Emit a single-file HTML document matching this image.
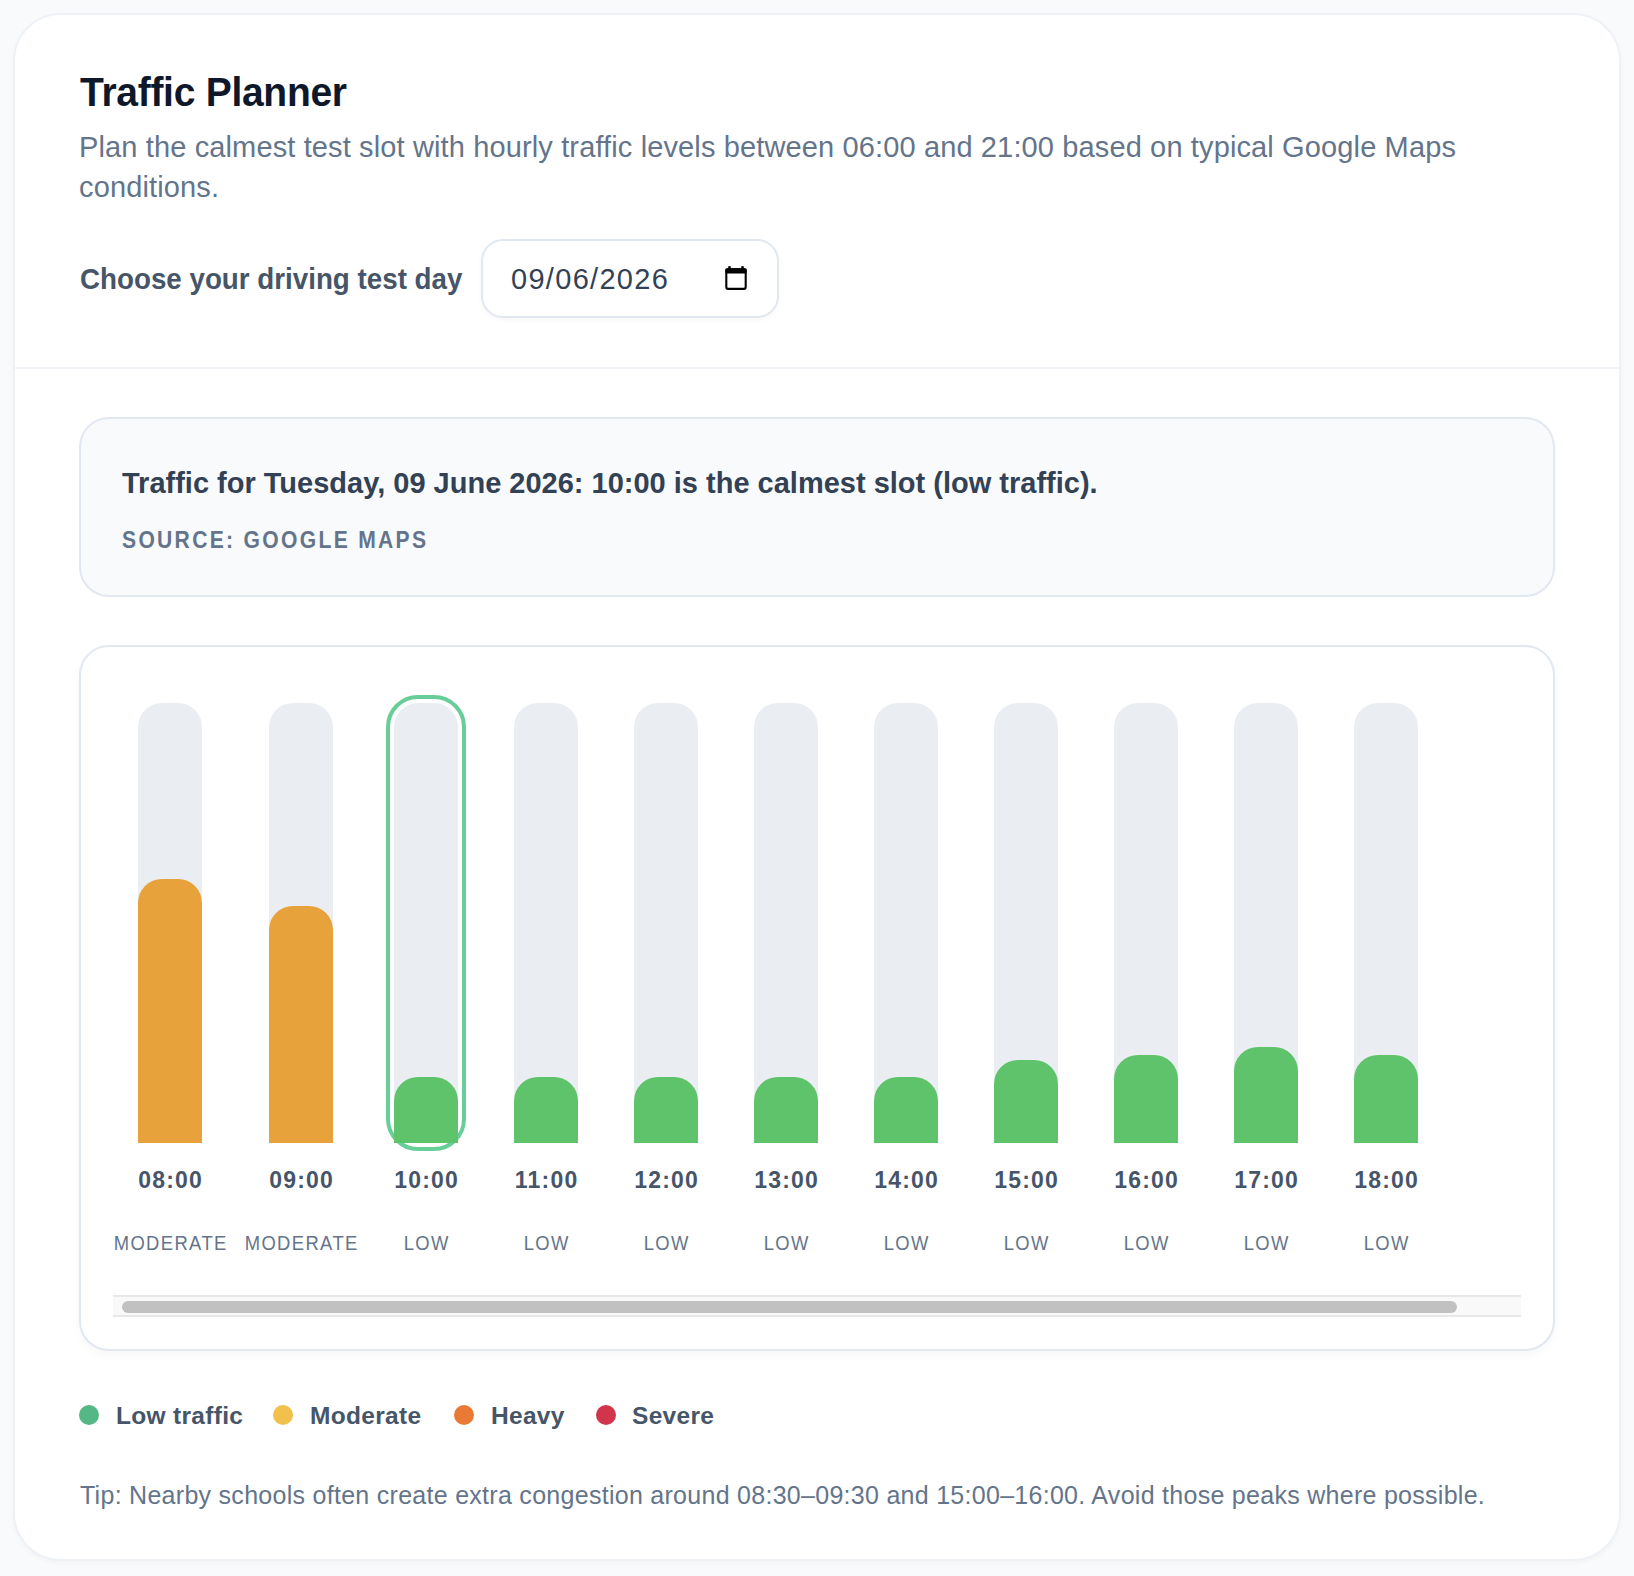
<!DOCTYPE html>
<html>
<head>
<meta charset="utf-8">
<style>
html,body{margin:0;padding:0;}
body{width:1634px;height:1576px;background:#f8fafc;position:relative;overflow:hidden;font-family:"Liberation Sans",sans-serif;}
.card{position:absolute;left:13px;top:13px;width:1604px;height:1544px;background:#fff;border:2px solid #eef2f7;border-radius:48px;box-shadow:0 2px 5px rgba(15,23,42,0.03);}
.t{position:absolute;white-space:nowrap;line-height:1;}
.divider{position:absolute;left:15px;top:367px;width:1604px;height:2px;background:#f0f4f8;}
.summary{position:absolute;left:79px;top:417px;width:1472px;height:176px;background:#f8fafc;border:2px solid #e2e8f0;border-radius:30px;}
.chart{position:absolute;left:79px;top:645px;width:1472px;height:702px;background:#fff;border:2px solid #e2e8f0;border-radius:30px;box-shadow:0 4px 10px rgba(15,23,42,0.035);}
.input{position:absolute;left:481px;top:239px;width:294px;height:75px;border:2px solid #e2e8f0;border-radius:22px;background:#fff;box-shadow:0 2px 4px rgba(15,23,42,0.04);}
.track{position:absolute;top:703px;width:64px;height:440px;background:#eaeef3;border-radius:24px;}
.fill{position:absolute;left:0;bottom:0;width:64px;border-radius:24px 24px 0 0;}
.sel{position:absolute;left:386px;top:695px;width:72px;height:448px;border:4px solid #68ce98;border-radius:32px;}
.time{font-weight:700;font-size:23px;color:#475569;letter-spacing:1.2px;text-indent:1.2px;}
.lvl{font-size:20px;color:#64748b;letter-spacing:1.5px;text-indent:1.5px;transform:scaleX(0.92);}
.dot{position:absolute;top:1405px;width:20px;height:20px;border-radius:50%;}
.leg{font-weight:700;font-size:24.5px;color:#475569;letter-spacing:0.3px;}
</style>
</head>
<body>
<div class="card"></div>
<div class="t" style="left:80px;top:71px;font-size:41.5px;font-weight:700;color:#0f172a;letter-spacing:-0.3px;transform:scaleX(0.94);transform-origin:0 0;">Traffic Planner</div>
<div class="t" style="left:79px;top:133px;font-size:29px;color:#64748b;letter-spacing:0.13px;">Plan the calmest test slot with hourly traffic levels between 06:00 and 21:00 based on typical Google Maps</div>
<div class="t" style="left:79px;top:173px;font-size:29px;color:#64748b;letter-spacing:0.13px;">conditions.</div>
<div class="t" style="left:80px;top:264px;font-size:30px;font-weight:700;color:#475569;transform:scaleX(0.925);transform-origin:0 0;">Choose your driving test day</div>
<div class="input"></div>
<div class="t" style="left:511px;top:265px;font-size:29px;color:#334155;letter-spacing:1.3px;">09/06/2026</div>
<svg style="position:absolute;left:720px;top:262px;" width="32" height="32" viewBox="0 0 32 32"><rect x="6.3" y="7.2" width="19.4" height="19.7" rx="1.8" fill="none" stroke="#000" stroke-width="2.1"/><rect x="5.3" y="6.2" width="21.4" height="5.4" rx="1.6" fill="#000"/><rect x="8.2" y="3.9" width="2.6" height="4" rx="1.2" fill="#000"/><rect x="21.2" y="3.9" width="2.6" height="4" rx="1.2" fill="#000"/></svg>
<div class="divider"></div>

<div class="summary"></div>
<div class="t" style="left:122px;top:469px;font-size:29px;font-weight:700;color:#334155;">Traffic for Tuesday, 09 June 2026: 10:00 is the calmest slot (low traffic).</div>
<div class="t" style="left:122px;top:528px;font-size:24.5px;font-weight:700;color:#64748b;letter-spacing:2.7px;transform:scaleX(0.86);transform-origin:0 0;">SOURCE: GOOGLE MAPS</div>

<div class="chart"></div>
<div class="track" style="left:138px;"><div class="fill" style="height:264px;background:#e8a23b;"></div></div>
<div class="track" style="left:269px;"><div class="fill" style="height:237px;background:#e8a23b;"></div></div>
<div class="sel"></div>
<div class="track" style="left:394px;"><div class="fill" style="height:66px;background:#5fc36b;"></div></div>
<div class="track" style="left:514px;"><div class="fill" style="height:66px;background:#5fc36b;"></div></div>
<div class="track" style="left:634px;"><div class="fill" style="height:66px;background:#5fc36b;"></div></div>
<div class="track" style="left:754px;"><div class="fill" style="height:66px;background:#5fc36b;"></div></div>
<div class="track" style="left:874px;"><div class="fill" style="height:66px;background:#5fc36b;"></div></div>
<div class="track" style="left:994px;"><div class="fill" style="height:83px;background:#5fc36b;"></div></div>
<div class="track" style="left:1114px;"><div class="fill" style="height:88px;background:#5fc36b;"></div></div>
<div class="track" style="left:1234px;"><div class="fill" style="height:96px;background:#5fc36b;"></div></div>
<div class="track" style="left:1354px;"><div class="fill" style="height:88px;background:#5fc36b;"></div></div>

<div class="t time" style="left:100px;width:140px;text-align:center;top:1169px;">08:00</div>
<div class="t lvl" style="left:100px;width:140px;text-align:center;top:1233px;">MODERATE</div>
<div class="t time" style="left:231px;width:140px;text-align:center;top:1169px;">09:00</div>
<div class="t lvl" style="left:231px;width:140px;text-align:center;top:1233px;">MODERATE</div>
<div class="t time" style="left:356px;width:140px;text-align:center;top:1169px;">10:00</div>
<div class="t lvl" style="left:356px;width:140px;text-align:center;top:1233px;">LOW</div>
<div class="t time" style="left:476px;width:140px;text-align:center;top:1169px;">11:00</div>
<div class="t lvl" style="left:476px;width:140px;text-align:center;top:1233px;">LOW</div>
<div class="t time" style="left:596px;width:140px;text-align:center;top:1169px;">12:00</div>
<div class="t lvl" style="left:596px;width:140px;text-align:center;top:1233px;">LOW</div>
<div class="t time" style="left:716px;width:140px;text-align:center;top:1169px;">13:00</div>
<div class="t lvl" style="left:716px;width:140px;text-align:center;top:1233px;">LOW</div>
<div class="t time" style="left:836px;width:140px;text-align:center;top:1169px;">14:00</div>
<div class="t lvl" style="left:836px;width:140px;text-align:center;top:1233px;">LOW</div>
<div class="t time" style="left:956px;width:140px;text-align:center;top:1169px;">15:00</div>
<div class="t lvl" style="left:956px;width:140px;text-align:center;top:1233px;">LOW</div>
<div class="t time" style="left:1076px;width:140px;text-align:center;top:1169px;">16:00</div>
<div class="t lvl" style="left:1076px;width:140px;text-align:center;top:1233px;">LOW</div>
<div class="t time" style="left:1196px;width:140px;text-align:center;top:1169px;">17:00</div>
<div class="t lvl" style="left:1196px;width:140px;text-align:center;top:1233px;">LOW</div>
<div class="t time" style="left:1316px;width:140px;text-align:center;top:1169px;">18:00</div>
<div class="t lvl" style="left:1316px;width:140px;text-align:center;top:1233px;">LOW</div>

<div class="scroll" style="position:absolute;left:113px;top:1295px;width:1408px;height:22px;background:#f9f9f9;border-top:2px solid #e8e8e8;border-bottom:2px solid #e8e8e8;box-sizing:border-box;"></div>
<div style="position:absolute;left:122px;top:1301px;width:1335px;height:12px;background:#c1c1c1;border-radius:6px;"></div>

<div class="dot" style="left:79px;background:#55b686;"></div>
<div class="t leg" style="left:116px;top:1404px;">Low traffic</div>
<div class="dot" style="left:273px;background:#f2c04c;"></div>
<div class="t leg" style="left:310px;top:1404px;">Moderate</div>
<div class="dot" style="left:454px;background:#e97a35;"></div>
<div class="t leg" style="left:491px;top:1404px;">Heavy</div>
<div class="dot" style="left:596px;background:#d1354c;"></div>
<div class="t leg" style="left:632px;top:1404px;">Severe</div>

<div class="t" style="left:80px;top:1483px;font-size:25px;color:#64748b;letter-spacing:0.28px;">Tip: Nearby schools often create extra congestion around 08:30–09:30 and 15:00–16:00. Avoid those peaks where possible.</div>
</body>
</html>
